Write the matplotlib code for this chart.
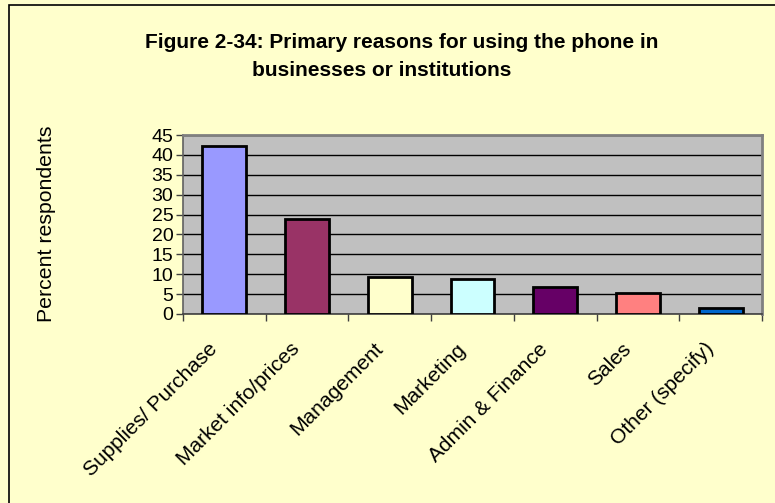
import matplotlib
matplotlib.use("Agg")
import matplotlib.pyplot as plt
from matplotlib.patches import Rectangle
from matplotlib.transforms import ScaledTranslation, blended_transform_factory

categories = ["Supplies/ Purchase", "Market info/prices", "Management",
              "Marketing", "Admin & Finance", "Sales", "Other (specify)"]
values = [42.3, 24.0, 9.4, 8.9, 6.8, 5.3, 1.5]
bar_colors = ["#9999FF", "#993366", "#FFFFCC", "#CCFFFF",
              "#660066", "#FF8080", "#0066CC"]
yticks = list(range(0, 50, 5))

plt.rcParams["font.family"] = ["Liberation Sans", "DejaVu Sans"]

W, H = 775, 503
fig = plt.figure(figsize=(W / 100, H / 100), dpi=100)
fig.patch.set_facecolor("#FFFFCC")

# outer chart frame (runs off the right and bottom edges)
fig.patches.append(Rectangle((9 / W, -0.05), 1.2, 1 - 4.5 / H + 0.05,
                             transform=fig.transFigure, fill=False,
                             edgecolor="black", linewidth=1.2))

ax = fig.add_axes([183 / W, 1 - 314 / H, (762 - 183) / W, (314 - 135) / H])
ax.set_facecolor("#C0C0C0")

x = list(range(len(categories)))
ax.bar(x, values, width=0.53, color=bar_colors, edgecolor="black",
       linewidth=2, zorder=3)

ax.set_xlim(-0.5, len(categories) - 0.5)
ax.set_ylim(0, 45)
ax.set_yticks(yticks)
ax.set_yticklabels([str(t) for t in yticks], fontsize=14)
ax.yaxis.grid(True, color="black", linewidth=1.0, zorder=1)
ax.set_axisbelow(True)

# ticks sit between categories; labels are placed as rotated text
ax.set_xticks([i + 0.5 for i in range(-1, len(categories))])
ax.set_xticklabels([])
ax.tick_params(axis="x", length=5, width=1, color="#404040", direction="out")
ax.tick_params(axis="y", length=5, width=1, color="#404040", direction="out",
               pad=2)

base = blended_transform_factory(ax.transData, ax.transAxes)
offset = ScaledTranslation(-10 / 100, -32 / 100, fig.dpi_scale_trans)
for xi, name in zip(x, categories):
    ax.text(xi, 0, name, transform=base + offset, rotation=45,
            rotation_mode="anchor", ha="right", va="center", fontsize=15)

for side in ("top", "right"):
    ax.spines[side].set_color("#808080")
    ax.spines[side].set_linewidth(2)
ax.spines["left"].set_color("#606060")
ax.spines["left"].set_linewidth(1.2)
ax.spines["bottom"].set_color("#404040")
ax.spines["bottom"].set_linewidth(1.2)

fig.text(47 / W, 1 - 224 / H, "Percent respondents", rotation=90,
         ha="center", va="center", fontsize=15.3)

fig.text(402 / W, 1 - 42 / H, "Figure 2-34: Primary reasons for using the phone in",
         ha="center", va="center", fontsize=15, fontweight="bold")
fig.text(382 / W, 1 - 71 / H, "businesses or institutions",
         ha="center", va="center", fontsize=15, fontweight="bold")

fig.savefig("out.png", dpi=100, facecolor=fig.get_facecolor())
